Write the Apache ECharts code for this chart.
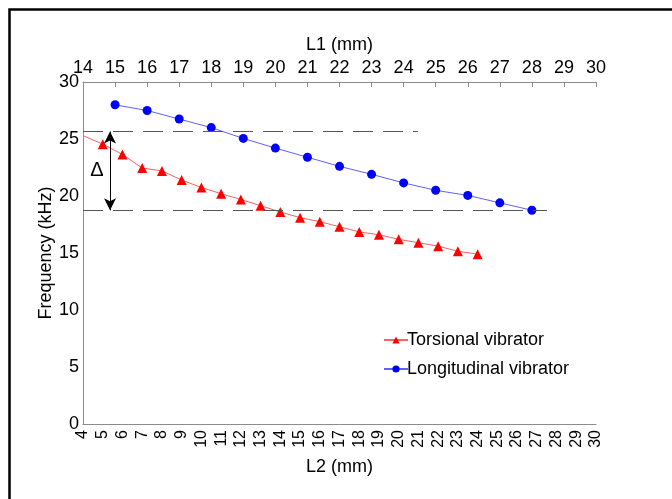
<!DOCTYPE html>
<html>
<head>
<meta charset="utf-8">
<script src="https://cdn.jsdelivr.net/npm/echarts@6/dist/echarts.min.js"></script>
<style>
html,body{margin:0;padding:0;background:#fff;}
#c{width:672px;height:499px;}
</style>
</head>
<body>
<div id="c"></div>
<script>
// L2 (bottom axis) positions for the torsional vibrator
const torsionalL2 = [4, 5, 6, 7, 8, 9, 10, 11, 12, 13, 14, 15, 16, 17, 18, 19, 20, 21, 22, 23, 24];
const torsionalFreq = [25.3, 24.55, 23.65, 22.45, 22.2, 21.4, 20.75, 20.2, 19.7, 19.15, 18.6, 18.1, 17.75, 17.3, 16.85, 16.6, 16.2, 15.9, 15.6, 15.15, 14.9];
// L1 (top axis) positions for the longitudinal vibrator
const longitudinalL1 = [15, 16, 17, 18, 19, 20, 21, 22, 23, 24, 25, 26, 27, 28];
const longitudinalFreq = [28.0, 27.5, 26.75, 26.0, 25.05, 24.2, 23.4, 22.6, 21.9, 21.15, 20.5, 20.05, 19.4, 18.75];
// reference levels (kHz) and their extent on L1
const upperLevel = 25.65, upperEndL1 = 24.45;
const lowerLevel = 18.75, lowerEndL1 = 28.47;
const deltaL2 = 5.37;

const FONT = 'Liberation Sans, Arial, sans-serif';
const chart = echarts.init(document.getElementById('c'));

const redData = torsionalL2.map((x, i) => {
  const d = {value: [x, torsionalFreq[i]]};
  if (i === 0) { d.symbol = 'none'; }
  return d;
});
const blueData = longitudinalL1.map((x, i) => [x, longitudinalFreq[i]]);

const axisLine = {show: true, lineStyle: {color: '#8c8c8c', width: 1}};
const dash = {color: '#555', width: 1, type: [20, 10]};

chart.setOption({
  animation: false,
  backgroundColor: '#fff',
  textStyle: {fontFamily: FONT},
  grid: {left: 83, right: 76, top: 82, bottom: 75, containLabel: false},
  legend: {
    orient: 'vertical', left: 378, top: 326, itemGap: 11,
    itemWidth: 24, itemHeight: 9,
    textStyle: {fontSize: 18, color: '#000', fontFamily: FONT, padding: [0, 0, 0, -6]},
    data: ['Torsional vibrator', 'Longitudinal vibrator']
  },
  xAxis: [{
    type: 'value', position: 'bottom', min: 4, max: 30, interval: 1,
    name: 'L2 (mm)', nameLocation: 'middle', nameGap: 34, nameMoveOverlap: false,
    nameTextStyle: {fontSize: 18, color: '#000', fontFamily: FONT},
    axisLine: axisLine, axisTick: {show: false}, splitLine: {show: false},
    axisLabel: {rotate: 90, fontSize: 16, color: '#000', margin: 6, fontFamily: FONT}
  }, {
    type: 'value', position: 'top', min: 14, max: 30, interval: 1,
    name: 'L1 (mm)', nameLocation: 'middle', nameGap: 28, nameMoveOverlap: false,
    nameTextStyle: {fontSize: 18, color: '#000', fontFamily: FONT},
    axisLine: axisLine, axisTick: {show: true, inside: true, length: 5, lineStyle: {color: '#8c8c8c'}},
    splitLine: {show: false},
    axisLabel: {fontSize: 18, color: '#000', margin: 5, fontFamily: FONT}
  }],
  yAxis: {
    type: 'value', min: 0, max: 30, interval: 5,
    name: 'Frequency (kHz)', nameLocation: 'middle', nameGap: 28, nameMoveOverlap: false,
    nameTextStyle: {fontSize: 18, color: '#000', fontFamily: FONT},
    axisLine: axisLine, axisTick: {show: false}, splitLine: {show: false},
    axisLabel: {fontSize: 18, color: '#000', margin: 4, fontFamily: FONT}
  },
  series: [{
    name: 'Torsional vibrator', type: 'line', xAxisIndex: 0,
    data: redData, symbol: 'triangle', symbolSize: 10,
    itemStyle: {color: '#ff0000'},
    lineStyle: {color: '#ff6060', width: 1},
    z: 3,
    markLine: {
      silent: true, symbol: ['arrow', 'arrow'], symbolSize: [9, 12],
      label: {show: false},
      lineStyle: {color: '#000', width: 1, type: 'solid'},
      data: [[{coord: [deltaL2, upperLevel]}, {coord: [deltaL2, lowerLevel]}]]
    }
  }, {
    name: 'Longitudinal vibrator', type: 'line', xAxisIndex: 1,
    data: blueData, symbol: 'circle', symbolSize: 9,
    itemStyle: {color: '#0000ff'},
    lineStyle: {color: '#6060ff', width: 1},
    z: 3,
    markLine: {
      silent: true, symbol: 'none', label: {show: false},
      lineStyle: dash,
      data: [
        [{coord: [14, upperLevel]}, {coord: [upperEndL1, upperLevel]}],
        [{coord: [14, lowerLevel]}, {coord: [lowerEndL1, lowerLevel]}]
      ]
    }
  }]
});

// Δ label placed beside the arrow using the chart's own scale
const p = chart.convertToPixel({xAxisIndex: 0, yAxisIndex: 0}, [deltaL2, (upperLevel + lowerLevel) / 2]);
chart.setOption({
  graphic: [{
    type: 'rect', left: 7, top: 7, silent: true,
    shape: {width: 700, height: 600},
    style: {fill: 'none', stroke: '#000', lineWidth: 2.5}
  }, {
    type: 'text', x: p[0] - 13, y: p[1], silent: true,
    style: {text: 'Δ', fill: '#000', font: '20px ' + FONT, align: 'center', verticalAlign: 'middle'}
  }]
});
</script>
</body>
</html>
